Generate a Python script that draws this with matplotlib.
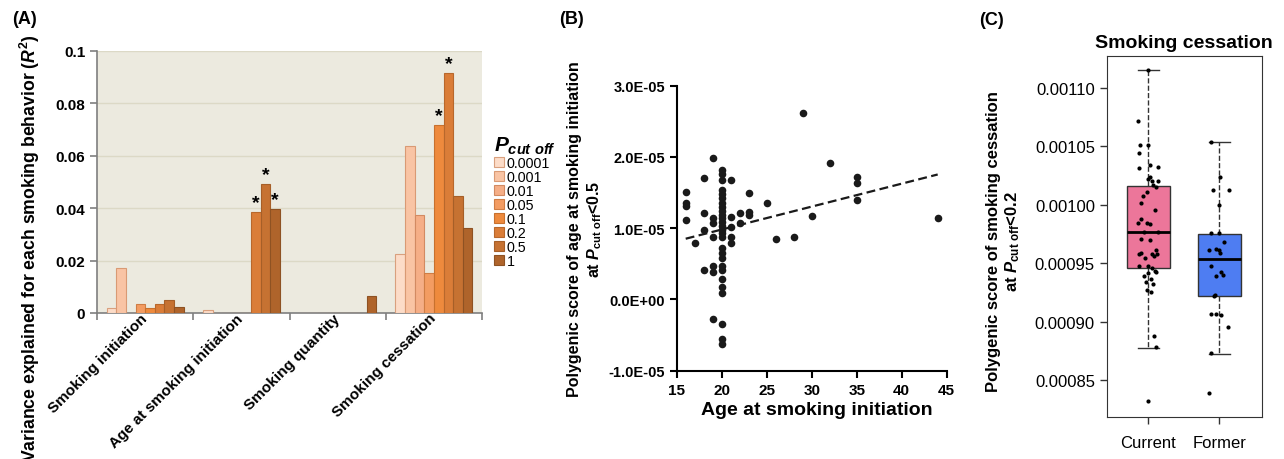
import numpy as np
import matplotlib
matplotlib.use('Agg')
import matplotlib.pyplot as plt

plt.rcParams['font.family'] = 'Liberation Sans'
plt.rcParams['mathtext.fontset'] = 'custom'
plt.rcParams['mathtext.it'] = 'Liberation Sans:italic:bold'
plt.rcParams['mathtext.rm'] = 'Liberation Sans:bold'
plt.rcParams['mathtext.bf'] = 'Liberation Sans:bold'

# (A) variance explained (R2) per behaviour and P cut-off
behaviours = ['Smoking initiation', 'Age at smoking initiation', 'Smoking quantity', 'Smoking cessation']
cutoffs = ['0.0001', '0.001', '0.01', '0.05', '0.1', '0.2', '0.5', '1']
r2_initiation = [0.0018, 0.0172, 0.0, 0.0033, 0.0020, 0.0034, 0.0050, 0.0023]
r2_age_init = [0.0010, 0.0, 0.0, 0.0, 0.0, 0.0385, 0.0492, 0.0398]
r2_quantity = [0.0, 0.0, 0.0, 0.0, 0.0, 0.0, 0.0, 0.0066]
r2_cessation = [0.0224, 0.0639, 0.0374, 0.0153, 0.0719, 0.0917, 0.0448, 0.0323]
signif = [(1, 5), (1, 6), (1, 7), (3, 4), (3, 5)]  # (behaviour, cutoff) with *

# (B) age at initiation vs polygenic score (x1e-5)
ages = [16, 16, 16, 16, 17, 18, 18, 18, 18,
        19, 19, 19, 19, 19, 19, 19,
        20, 20, 20, 20, 20, 20, 20, 20, 20, 20, 20, 20, 20, 20, 20, 20, 20, 20,
        20, 20, 20, 20, 20, 20, 20, 20, 20,
        21, 21, 21, 21, 21, 22, 22, 23, 23, 23,
        25, 26, 28, 29, 30, 32, 35, 35, 35, 44]
scores = [1.51, 1.35, 1.31, 1.11, 0.79, 1.70, 1.22, 0.97, 0.41,
          1.98, 1.15, 1.08, 0.87, 0.47, 0.39, -0.27,
          1.82, 1.76, 1.68, 1.54, 1.48, 1.42, 1.36, 1.30, 1.24, 1.18, 1.14, 1.09, 1.03, 0.97, 0.93, 0.87, 0.72, 0.65,
          0.58, 0.47, 0.41, 0.29, 0.18, 0.09, -0.34, -0.55, -0.62,
          1.67, 1.16, 1.02, 0.87, 0.79, 1.21, 1.08, 1.49, 1.23, 1.18,
          1.36, 0.85, 0.87, 2.62, 1.17, 1.92, 1.72, 1.64, 1.40, 1.15]

# (C) smoking cessation polygenic score, current vs former
groups = ['Current', 'Former']
box_q1 = [0.0009458, 0.0009221]
box_med = [0.0009763, 0.0009532]
box_q3 = [0.0010162, 0.0009749]
whisk_lo = [0.0008776, 0.0008722]
whisk_hi = [0.0011151, 0.0010533]
cur_x = [1.00, 0.85, 0.88, 0.99, 0.86, 0.86, 1.02, 1.14, 0.99, 1.02, 1.05, 1.13, 1.07, 1.10, 0.98, 0.92,
         0.90, 1.09, 0.90, 0.85, 0.98, 1.02, 0.93, 1.14, 0.90, 1.02, 1.10, 0.87, 0.89, 0.95, 1.05, 1.08,
         1.12, 0.86, 1.00, 1.05, 1.09, 1.11, 0.93, 1.00, 1.04, 0.96, 1.06, 0.98, 1.04, 1.08, 1.10, 1.00]
cur_y = [0.0011151, 0.0010718, 0.0010510, 0.0010512, 0.0010441, 0.0010310, 0.0010339, 0.0010324,
         0.0010219, 0.0010233, 0.0010204, 0.0010204, 0.0010168, 0.0010153, 0.0010110, 0.0010071,
         0.0010014, 0.0009956, 0.0009877, 0.0009840, 0.0009840, 0.0009834, 0.0009768, 0.0009768,
         0.0009706, 0.0009697, 0.0009614, 0.0009578, 0.0009586, 0.0009541, 0.0009578, 0.0009563,
         0.0009578, 0.0009472, 0.0009477, 0.0009455, 0.0009435, 0.0009426, 0.0009392, 0.0009415,
         0.0009364, 0.0009341, 0.0009321, 0.0009270, 0.0009250, 0.0008874, 0.0008779, 0.0008318]
for_x = [1.89, 2.01, 1.91, 2.14, 1.99, 1.89, 2.00, 2.07, 1.86, 1.95, 1.99, 2.01, 1.88, 2.03, 1.95, 2.06,
         1.92, 1.94, 1.89, 1.95, 2.02, 2.13, 1.88, 1.86]
for_y = [0.0010538, 0.0010233, 0.0010125, 0.0010125, 0.0009997, 0.0009755, 0.0009757, 0.0009678,
         0.0009612, 0.0009620, 0.0009612, 0.0009586, 0.0009477, 0.0009426, 0.0009392, 0.0009400,
         0.0009221, 0.0009225, 0.0009064, 0.0009064, 0.0009060, 0.0008953, 0.0008728, 0.0008390]

bar_colors = ['#FCDCC8', '#F9C4A4', '#F5AE87', '#F39C62', '#EE8A3D', '#DA7D38', '#C67232', '#AF642B']
edge_colors = ['#D9A07E', '#D99A74', '#D28A62', '#CF7D45', '#C8712E', '#B8682C', '#A65F28', '#8E5223']
box_colors = ['#EC769A', '#4E7DF2']

W, H = 1284, 460
fig = plt.figure(figsize=(W / 100, H / 100), dpi=100)


def place(l, t, r, b):
    return [l / W, 1 - b / H, (r - l) / W, (b - t) / H]


# ---------- panel A ----------
axA = fig.add_axes(place(97, 52, 482, 314))
axA.set_facecolor('#ECEADF')
values = [r2_initiation, r2_age_init, r2_quantity, r2_cessation]
for k in range(len(cutoffs)):
    xs = np.arange(len(behaviours)) + 0.1 + 0.1 * k
    axA.bar(xs, [v[k] for v in values], width=0.1, align='edge', color=bar_colors[k],
            edgecolor=edge_colors[k], linewidth=0.8, label=cutoffs[k], zorder=3)
for c, k in signif:
    axA.text(c + 0.15 + 0.1 * k, values[c][k] + 0.0003, '*', ha='center', va='bottom',
             fontsize=14, fontweight='bold')
axA.set_xlim(0, 4)
axA.set_ylim(0, 0.1)
axA.set_yticks(np.arange(0, 0.101, 0.02), ['0', '0.02', '0.04', '0.06', '0.08', '0.1'],
               fontweight='bold', fontsize=11)
axA.yaxis.grid(True, color='#DCD9C6', lw=1)
axA.set_axisbelow(True)
axA.set_xticks(range(5), [])
axA.set_xticks(np.arange(4) + 0.5, behaviours, minor=True, rotation=45, ha='right', va='center',
               rotation_mode='anchor', fontweight='bold', fontsize=11)
axA.tick_params(axis='x', which='minor', length=0, pad=2)
axA.tick_params(axis='both', which='major', color='#7F7F7F', length=5, width=1.2)
for s in ['top', 'right']:
    axA.spines[s].set_visible(False)
for s in ['left', 'bottom']:
    axA.spines[s].set_color('#7F7F7F')
    axA.spines[s].set_linewidth(1.2)
fig.text(30 / W, 1 - 248 / H, r'Variance explained for each smoking behavior ($\mathit{R}^{2}$)',
         rotation=90, ha='center', va='center', fontsize=12.7, fontweight='bold')
axA.legend(title=r'$P_{cut\ off}$', loc='upper left', bbox_to_anchor=(494 / W, 1 - 136 / H),
           bbox_transform=fig.transFigure, frameon=False, fontsize=10.3, title_fontsize=15,
           handlelength=0.7, handleheight=0.7, handletextpad=0.2, labelspacing=0.0,
           borderpad=0, borderaxespad=0, alignment='left')

# ---------- panel B ----------
axB = fig.add_axes(place(676.7, 86.7, 946.7, 371.7))
ag = np.array(ages, dtype=float)
sc = np.array(scores) * 1e-5
axB.scatter(ag, sc, s=30, color='#1A1A1A', linewidths=0, zorder=3)
slope, icpt = np.polyfit(ag, sc, 1)
xf = np.array([ag.min(), ag.max()])
axB.plot(xf, slope * xf + icpt, ls=(0, (4, 2)), color='#1A1A1A', lw=1.6)
axB.set_xlim(15, 45)
axB.set_ylim(-1e-5, 3e-5)
axB.set_xticks(range(15, 46, 5), [str(v) for v in range(15, 46, 5)], fontweight='bold', fontsize=11)
yt = [-1e-5, 0, 1e-5, 2e-5, 3e-5]
axB.set_yticks(yt, [f'{v:.1E}' for v in yt], fontweight='bold', fontsize=10.5)
axB.tick_params(length=5, width=1.5)
for s in ['top', 'right']:
    axB.spines[s].set_visible(False)
for s in ['left', 'bottom']:
    axB.spines[s].set_linewidth(1.5)
axB.set_xlabel('Age at smoking initiation', fontsize=14, fontweight='bold')
axB.xaxis.set_label_coords(0.52, -0.105)
axB.set_ylabel('Polygenic score of age at smoking initiation\nat $P_{\\mathrm{cut\\ off}}$<0.5',
               fontsize=11.5, fontweight='bold')
axB.yaxis.set_label_coords(-0.27, 0.5)

# ---------- panel C ----------
axC = fig.add_axes(place(1106.7, 56.7, 1261.7, 417.7))
stats = [dict(med=box_med[i], q1=box_q1[i], q3=box_q3[i], whislo=whisk_lo[i], whishi=whisk_hi[i],
              fliers=[]) for i in range(2)]
bp = axC.bxp(stats, positions=[1, 2], widths=0.61, patch_artist=True, showfliers=False,
             boxprops=dict(edgecolor='#333333', linewidth=1),
             medianprops=dict(color='black', linewidth=2),
             whiskerprops=dict(color='#333333', linestyle='--', linewidth=1),
             capprops=dict(color='#333333', linewidth=1), capwidths=0.3)
for patch, col in zip(bp['boxes'], box_colors):
    patch.set_facecolor(col)
axC.scatter(cur_x, cur_y, s=9, color='black', linewidths=0, zorder=3)
axC.scatter(for_x, for_y, s=9, color='black', linewidths=0, zorder=3)
axC.set_xlim(0.41, 2.6)
axC.set_ylim(0.0008186, 0.0011274)
ytc = [0.00085, 0.0009, 0.00095, 0.001, 0.00105, 0.0011]
axC.set_yticks(ytc, [f'{v:.5f}' for v in ytc], fontsize=12)
axC.set_xticks([1, 2], groups, fontsize=12)
axC.tick_params(length=5, width=1, color='#333333')
axC.tick_params(axis='x', pad=8)
for s in axC.spines.values():
    s.set_color('#333333')
axC.set_title('Smoking cessation', fontsize=14, fontweight='bold', pad=6)
axC.set_ylabel('Polygenic score of smoking cessation\nat $P_{\\mathrm{cut\\ off}}$<0.2',
               fontsize=12, fontweight='bold')
axC.yaxis.set_label_coords(-0.546, 0.487)

fig.text(24.5 / W, 1 - 19.5 / H, '(A)', fontsize=13, fontweight='bold', ha='center', va='center')
fig.text(571 / W, 1 - 20 / H, '(B)', fontsize=13, fontweight='bold', ha='center', va='center')
fig.text(991.5 / W, 1 - 20.5 / H, '(C)', fontsize=13, fontweight='bold', ha='center', va='center')

fig.savefig('out.png', dpi=100)
